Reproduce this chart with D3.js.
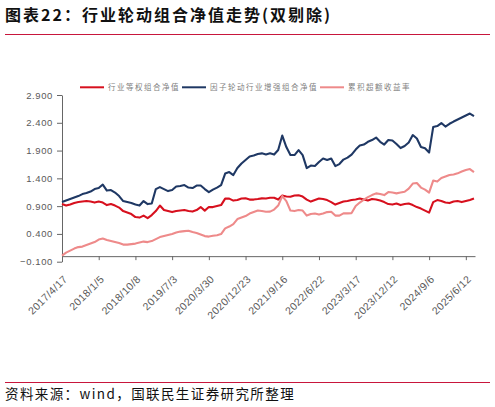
<!DOCTYPE html>
<html>
<head>
<meta charset="utf-8">
<script src="https://cdn.jsdelivr.net/npm/d3@7"></script>
<style>
  body { margin: 0; background: #fff; }
  svg { display: block; }
</style>
</head>
<body>
<div id="chart"></div>
<script>
// 1. data (one point every 20 trading days)
var dateLabels = ['2017/4/17', '2018/1/5', '2018/10/8', '2019/7/3', '2020/3/30', '2020/12/23',
  '2021/9/16', '2022/6/22', '2023/3/17', '2023/12/12', '2024/9/6', '2025/6/12'];
var labelStep = 180;   // trading days between axis labels
var pointStep = 20;    // trading days between data points
var totalDays = 2025;

var yTicks = [-0.1, 0.4, 0.9, 1.4, 1.9, 2.4, 2.9];

var seriesNames = ['行业等权组合净值', '因子轮动行业增强组合净值', '累积超额收益率'];

var equalWeight = [0.937, 0.910, 0.928, 0.955, 0.973, 0.982, 0.991, 0.982, 0.964, 0.982,
  0.964, 0.919, 0.937, 0.910, 0.874, 0.811, 0.784, 0.757, 0.703, 0.694,
  0.730, 0.685, 0.739, 0.811, 0.910, 0.829, 0.811, 0.793, 0.811, 0.820,
  0.829, 0.811, 0.802, 0.829, 0.883, 0.820, 0.883, 0.883, 0.901, 0.919,
  1.036, 1.036, 1.000, 1.009, 1.036, 1.040, 1.018, 1.018, 1.027, 1.040,
  1.036, 1.050, 1.050, 1.018, 1.090, 1.072, 1.068, 1.090, 1.095, 1.072,
  1.018, 0.982, 1.009, 1.036, 1.027, 1.009, 0.973, 0.928, 0.955, 0.982,
  0.991, 1.009, 1.018, 1.036, 1.018, 1.000, 1.027, 1.018, 1.000, 0.973,
  0.937, 0.928, 0.946, 0.919, 0.937, 0.946, 0.919, 0.883, 0.856, 0.820,
  0.784, 0.973, 1.009, 0.991, 0.964, 0.955, 0.982, 0.991, 0.973, 0.991,
  1.009, 1.036];

var factorRotation = [0.973, 1.000, 1.027, 1.054, 1.081, 1.117, 1.135, 1.162, 1.207, 1.225,
  1.288, 1.180, 1.189, 1.144, 1.081, 0.991, 0.973, 0.955, 0.928, 0.910,
  0.991, 0.937, 0.946, 1.207, 1.243, 1.207, 1.171, 1.189, 1.252, 1.261,
  1.279, 1.234, 1.225, 1.270, 1.270, 1.207, 1.153, 1.198, 1.234, 1.279,
  1.486, 1.513, 1.459, 1.585, 1.666, 1.729, 1.792, 1.810, 1.837, 1.850,
  1.828, 1.850, 1.828, 1.909, 2.170, 1.963, 1.819, 1.819, 1.909, 1.819,
  1.585, 1.630, 1.621, 1.693, 1.756, 1.729, 1.756, 1.621, 1.657, 1.738,
  1.774, 1.828, 1.918, 1.990, 2.008, 2.058, 2.089, 2.134, 2.058, 2.008,
  2.089, 2.080, 2.017, 1.945, 1.981, 2.044, 2.179, 2.116, 1.963, 1.940,
  1.864, 2.323, 2.341, 2.395, 2.332, 2.382, 2.422, 2.458, 2.494, 2.530,
  2.566, 2.521];

var excessReturn = [0.010, 0.064, 0.100, 0.136, 0.163, 0.172, 0.199, 0.226, 0.253, 0.298,
  0.316, 0.289, 0.271, 0.253, 0.235, 0.208, 0.208, 0.217, 0.226, 0.244,
  0.262, 0.253, 0.271, 0.307, 0.343, 0.361, 0.379, 0.397, 0.424, 0.442,
  0.451, 0.456, 0.433, 0.415, 0.388, 0.361, 0.352, 0.366, 0.375, 0.397,
  0.500, 0.532, 0.577, 0.667, 0.694, 0.721, 0.766, 0.793, 0.820, 0.811,
  0.798, 0.802, 0.838, 0.910, 1.081, 0.991, 0.820, 0.811, 0.829, 0.820,
  0.730, 0.757, 0.766, 0.748, 0.766, 0.793, 0.798, 0.730, 0.730, 0.770,
  0.770, 0.775, 0.901, 0.964, 1.018, 1.063, 1.099, 1.130, 1.117, 1.099,
  1.153, 1.144, 1.130, 1.144, 1.158, 1.216, 1.306, 1.315, 1.234, 1.198,
  1.144, 1.360, 1.342, 1.405, 1.432, 1.459, 1.468, 1.490, 1.522, 1.549,
  1.567, 1.513];

// 2. svg
var svgWidth = 495;
var svgHeight = 407;
var cjk = '"Noto Sans CJK SC", "Noto Sans", sans-serif';
var num = '"Liberation Sans", Arial, sans-serif';
var ruleColor = '#c8163c';
var colors = ['#d7101e', '#1f3864', '#ee8a8a'];

var svg = d3.select('#chart').append('svg')
  .attr('width', svgWidth)
  .attr('height', svgHeight);

// title + rules
svg.append('text')
  .attr('x', 5)
  .attr('y', 21)
  .attr('font-family', cjk)
  .attr('font-size', 16)
  .attr('font-weight', 700)
  .attr('letter-spacing', 2)
  .attr('fill', '#111')
  .text('图表22：行业轮动组合净值走势(双剔除)');

svg.append('line')
  .attr('x1', 5).attr('x2', 490)
  .attr('y1', 34.5).attr('y2', 34.5)
  .attr('stroke', ruleColor)
  .attr('stroke-width', 1);

svg.append('line')
  .attr('x1', 5).attr('x2', 490)
  .attr('y1', 382.5).attr('y2', 382.5)
  .attr('stroke', ruleColor)
  .attr('stroke-width', 1);

svg.append('text')
  .attr('x', 5)
  .attr('y', 399)
  .attr('font-family', cjk)
  .attr('font-size', 13.5)
  .attr('letter-spacing', 1.4)
  .attr('fill', '#111')
  .text('资料来源：wind，国联民生证券研究所整理');

// 3. scales
var xScale = d3.scaleLinear()
  .domain([0, totalDays])
  .range([62, 475]);

var yScale = d3.scaleLinear()
  .domain([-0.1, 2.9])
  .range([261.7, 95]);

// 4. axes
var leftAxis = d3.axisLeft(yScale)
  .tickValues(yTicks)
  .tickFormat(d3.format('.3f'))
  .tickSize(5)
  .tickSizeOuter(0)
  .tickPadding(4);

var yAxis = svg.append('g')
  .attr('transform', 'translate(62, 0)')
  .call(leftAxis);

yAxis.selectAll('text')
  .attr('font-family', num)
  .attr('font-size', 9.5)
  .attr('letter-spacing', 0.6)
  .attr('fill', '#595959');

var tickDays = dateLabels.map(function(d, i) { return i * labelStep; });

var bottomAxis = d3.axisBottom(xScale)
  .tickValues(tickDays)
  .tickFormat(function(d, i) { return dateLabels[i]; })
  .tickSize(4)
  .tickSizeOuter(0);

var xAxis = svg.append('g')
  .attr('transform', 'translate(0, ' + yScale(0) + ')')
  .call(bottomAxis);

xAxis.selectAll('text')
  .attr('font-family', num)
  .attr('font-size', 10.5)
  .attr('letter-spacing', 0.4)
  .attr('fill', '#595959')
  .attr('text-anchor', 'end')
  .attr('x', 0)
  .attr('y', 0)
  .attr('dy', '0.35em')
  .attr('transform', 'translate(3, 21) rotate(-45)');

svg.selectAll('.domain, .tick line')
  .attr('stroke', '#666')
  .attr('stroke-width', 1);

// 5. lines
var lineGen = d3.line()
  .x(function(d, i) { return xScale(i * pointStep); })
  .y(function(d) { return yScale(d); });

var allSeries = [equalWeight, factorRotation, excessReturn];

svg.append('g')
  .selectAll('path')
  .data(allSeries)
  .enter()
  .append('path')
  .attr('d', function(d) { return lineGen(d); })
  .attr('fill', 'none')
  .attr('stroke', function(d, i) { return colors[i]; })
  .attr('stroke-width', 2.1)
  .attr('stroke-linejoin', 'round');

// 6. legend
var legendX = [80, 182, 320];
var legend = svg.append('g');

seriesNames.forEach(function(name, i) {
  legend.append('line')
    .attr('x1', legendX[i]).attr('x2', legendX[i] + 24)
    .attr('y1', 87.3).attr('y2', 87.3)
    .attr('stroke', colors[i])
    .attr('stroke-width', 2);
  legend.append('text')
    .attr('x', legendX[i] + 28)
    .attr('y', 90)
    .attr('font-family', cjk)
    .attr('font-size', 7.5)
    .attr('letter-spacing', 1.5)
    .attr('fill', '#7f7f7f')
    .text(name);
});
</script>
</body>
</html>
